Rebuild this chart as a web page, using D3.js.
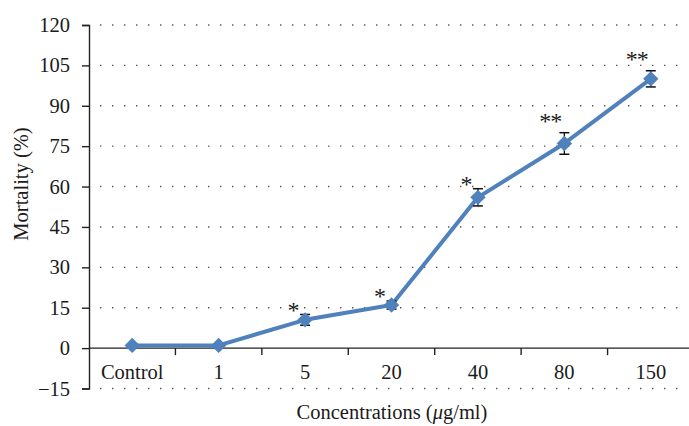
<!DOCTYPE html>
<html>
<head>
<meta charset="utf-8">
<script src="https://cdn.jsdelivr.net/npm/d3@7"></script>
<style>
  body { margin: 0; background: #fff; }
  text { font-family: "Liberation Serif", "Times New Roman", serif; fill: #1a1a1a; }
</style>
</head>
<body>
<svg id="chart" width="689" height="426"></svg>
<script>
const categories = ["Control", "1", "5", "20", "40", "80", "150"];
const mortality = [1, 1, 10.5, 16, 56, 76, 100];
const errors = [0.6, 0.5, 2, 1.5, 3.2, 4, 3];
const marks = ["", "", "*", "*", "*", "**", "**"];
const yTicks = [-15, 0, 15, 30, 45, 60, 75, 90, 105, 120];

const svg = d3.select("#chart");
const W = 689, H = 426;
const plotLeft = 89, plotTop = 25, plotBottom = 388.5;
const FONT = "20.5px";

const X = d3.scaleBand().domain(categories).range([plotLeft, 694]);
const Y = d3.scaleLinear().domain([-15, 120]).range([plotBottom, plotTop]);
const blue = "#4f81bd";
const cx = d => X(d) + X.bandwidth() / 2;

// dotted grid
svg.append("g").selectAll("line").data(yTicks.filter(d => d !== 0)).enter().append("line")
  .attr("x1", plotLeft + 11).attr("x2", 684)
  .attr("y1", d => Y(d)).attr("y2", d => Y(d))
  .attr("stroke", "#555").attr("stroke-width", 1.4)
  .attr("stroke-dasharray", "1.4,10.6");

// y axis
const yAxis = svg.append("g").attr("transform", `translate(${plotLeft},0)`)
  .call(d3.axisLeft(Y).tickValues(yTicks).tickSize(7).tickPadding(12)
    .tickFormat(d => d < 0 ? "\u2212" + Math.abs(d) : d));
yAxis.select(".domain").attr("stroke", "#222").attr("stroke-width", 1.4);
yAxis.selectAll(".tick line").attr("stroke", "#222").attr("stroke-width", 1.4);
yAxis.selectAll(".tick text").style("font-size", FONT)
  .style("font-family", "Liberation Serif").attr("fill", "#1a1a1a");

// x axis at zero
const xg = svg.append("g").attr("transform", `translate(0,${Y(0)})`);
xg.append("line").attr("x1", plotLeft).attr("x2", W).attr("stroke", "#222").attr("stroke-width", 1.4);
xg.selectAll(".xt").data(categories.slice(1)).enter().append("line")
  .attr("class", "xt")
  .attr("x1", d => X(d)).attr("x2", d => X(d))
  .attr("y1", 0).attr("y2", 7)
  .attr("stroke", "#222").attr("stroke-width", 1.4);
xg.selectAll("text").data(categories).enter().append("text")
  .attr("x", d => cx(d))
  .attr("y", 31)
  .attr("text-anchor", "middle")
  .style("font-size", FONT)
  .text(d => d);

// line
const pts = categories.map((c, i) => ({c, v: mortality[i], e: errors[i], m: marks[i]}));
const line = d3.line().x(d => cx(d.c)).y(d => Y(d.v));
svg.append("path").datum(pts)
  .attr("d", line).attr("fill", "none")
  .attr("stroke", blue).attr("stroke-width", 4).attr("stroke-linejoin", "round");

// error bars
const eb = svg.append("g").selectAll("g").data(pts).enter().append("g")
  .attr("transform", d => `translate(${cx(d.c)},0)`);
eb.append("line").attr("y1", d => Y(d.v + d.e)).attr("y2", d => Y(d.v - d.e))
  .attr("stroke", "#111").attr("stroke-width", 1.3);
eb.append("line").attr("x1", -5).attr("x2", 5)
  .attr("y1", d => Y(d.v + d.e)).attr("y2", d => Y(d.v + d.e))
  .attr("stroke", "#111").attr("stroke-width", 1.5);
eb.append("line").attr("x1", -5).attr("x2", 5)
  .attr("y1", d => Y(d.v - d.e)).attr("y2", d => Y(d.v - d.e))
  .attr("stroke", "#111").attr("stroke-width", 1.5);

// diamonds
svg.append("g").selectAll("path").data(pts).enter().append("path")
  .attr("d", d3.symbol(d3.symbolSquare, 118))
  .attr("transform", d => `translate(${cx(d.c)},${Y(d.v)}) rotate(45)`)
  .attr("fill", blue);

// significance marks
svg.append("g").selectAll("text").data(pts.filter(d => d.m)).enter().append("text")
  .attr("x", d => cx(d.c) - (d.m.length > 1 ? 14 : 12))
  .attr("y", d => Y(d.v + d.e) + (d.m.length > 1 ? -3.5 : 3.5))
  .attr("text-anchor", "middle")
  .style("font-size", "24px")
  .style("letter-spacing", "-1px")
  .attr("fill", "#333")
  .text(d => d.m);

// axis titles
svg.append("text")
  .attr("transform", `translate(28,184) rotate(-90)`)
  .attr("text-anchor", "middle")
  .style("font-size", FONT)
  .text("Mortality (%)");

const xt = svg.append("text")
  .attr("x", 392).attr("y", 419)
  .attr("text-anchor", "middle")
  .style("font-size", FONT);
xt.append("tspan").text("Concentrations (");
xt.append("tspan").style("font-style", "italic").text("\u03bc");
xt.append("tspan").text("g/ml)");
</script>
</body>
</html>
